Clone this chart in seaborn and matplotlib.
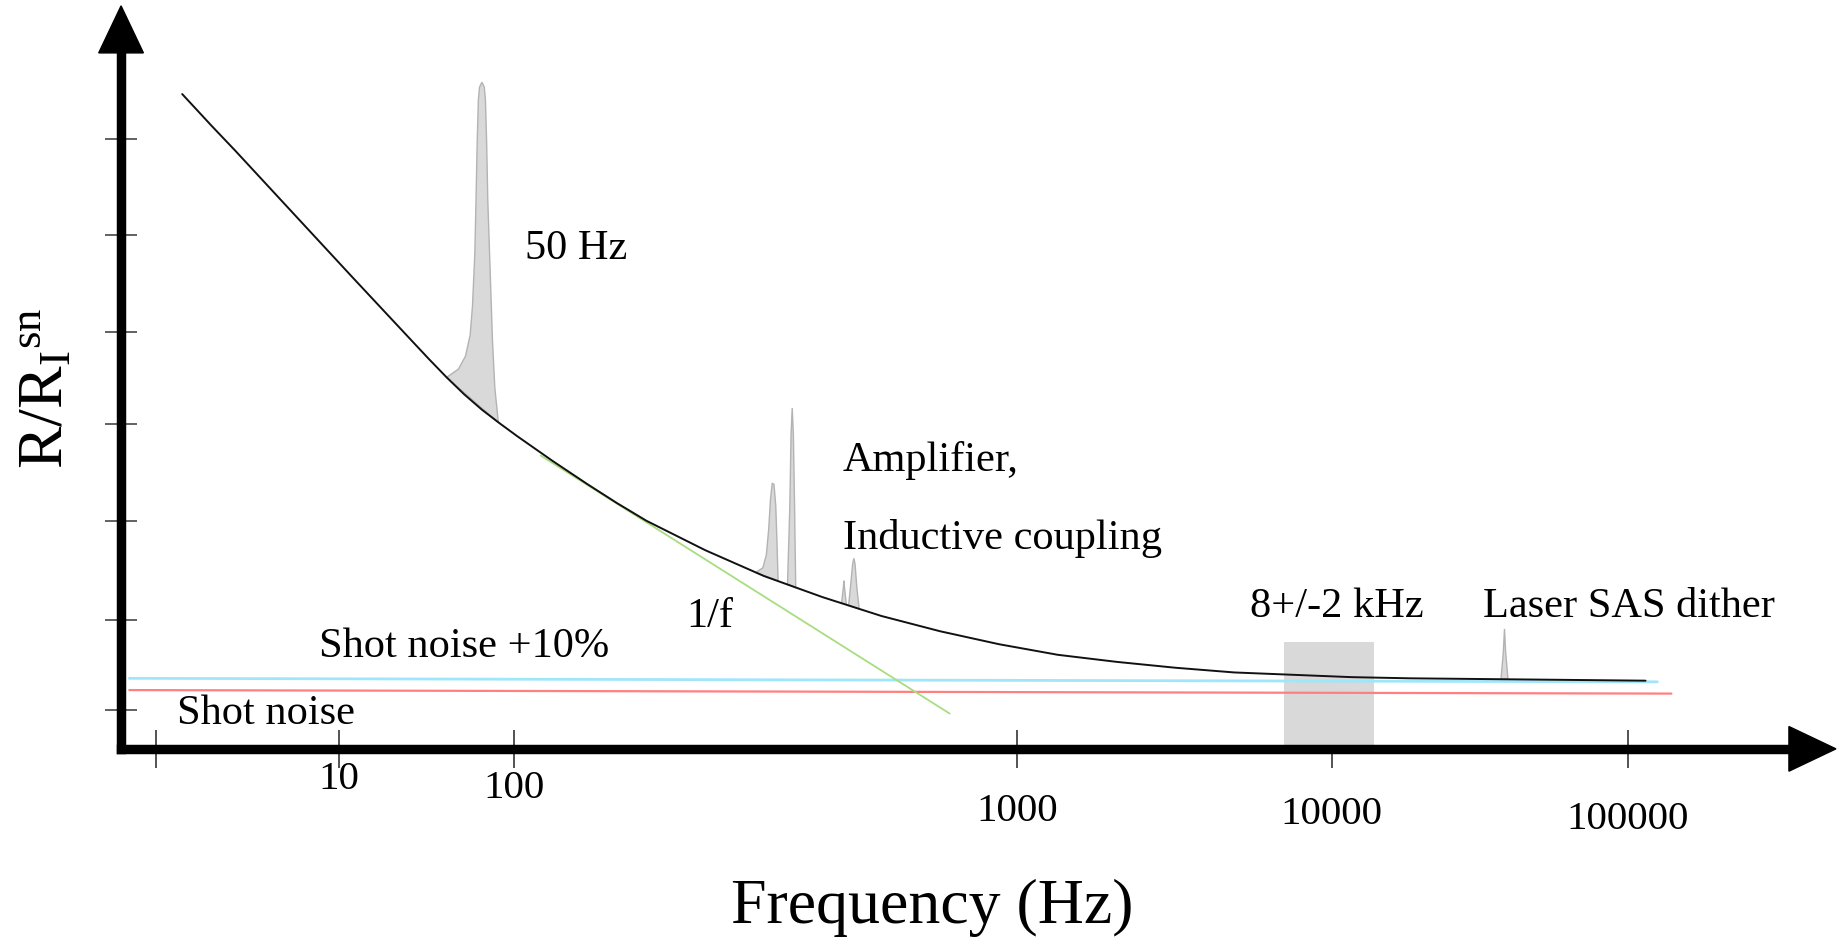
import matplotlib
matplotlib.use("Agg")
import matplotlib.pyplot as plt
import seaborn as sns

sns.set_theme(style="white")
plt.rcParams["font.family"] = ["Liberation Serif", "DejaVu Serif"]
plt.rcParams["text.color"] = "black"
plt.rcParams["mathtext.fontset"] = "custom"
plt.rcParams["mathtext.rm"] = "Liberation Serif"
plt.rcParams["mathtext.it"] = "Liberation Serif:italic"

# ---- schematic noise spectrum (arbitrary chart units) ----
# total measured noise
curve_x = [5.2, 7.7, 9.7, 14.7, 19.7, 24.7, 26.2, 27.7, 29.2, 30.7, 32.2, 33.7, 35.2,
           36.7, 38.2, 39.7, 42.2, 44.7, 49.7, 54.7, 59.7, 64.7, 69.7, 74.7, 79.7,
           84.7, 89.7, 94.7, 99.7, 104.7, 109.7, 119.7, 129.7]
curve_y = [55.7, 53.0, 50.9, 45.5, 40.1, 34.75, 33.15, 31.6, 30.15, 28.85, 27.7, 26.6, 25.55,
           24.5, 23.5, 22.5, 20.9, 19.4, 16.9, 14.7, 12.9, 11.3, 10.0, 8.9, 8.0,
           7.4, 6.9, 6.5, 6.3, 6.1, 6.0, 5.9, 5.8]

# 1/f asymptote
inv_f_x = [35.7, 70.5]
inv_f_y = [24.95, 3.0]

# shot noise and shot noise +10 %
shot_x = [0.7, 131.9]
shot_y = [5.0, 4.7]
shot10_x = [0.7, 130.7]
shot10_y = [6.0, 5.7]

# narrow-band pickup peaks (outline above the noise curve)
peak_50hz_x = [27.7, 28.7, 29.3, 29.7, 29.9, 30.1, 30.2, 30.3, 30.4, 30.5, 30.7, 30.9,
               31.0, 31.1, 31.2, 31.4, 31.6, 31.8, 32.1]
peak_50hz_y = [31.6, 32.3, 33.4, 35.2, 37.7, 42.2, 46.7, 51.7, 55.2, 56.3, 56.7, 56.3,
               55.2, 51.7, 46.7, 40.7, 34.7, 30.7, 27.75]
peak_amp1_x = [54.0, 54.6, 54.9, 55.1, 55.25, 55.4, 55.55, 55.7, 55.8, 55.9]
peak_amp1_y = [15.0, 15.4, 16.5, 18.7, 21.2, 22.6, 22.5, 20.7, 17.7, 14.3]
peak_amp2_x = [56.7, 56.9, 57.0, 57.1, 57.2, 57.3, 57.4]
peak_amp2_y = [14.0, 20.7, 26.7, 29.0, 26.7, 20.7, 13.7]
peak_amp3_x = [61.3, 61.45, 61.5, 61.55, 61.7]
peak_amp3_y = [12.4, 13.7, 14.3, 13.7, 12.3]
peak_amp4_x = [61.9, 62.1, 62.25, 62.35, 62.45, 62.6, 62.8]
peak_amp4_y = [12.2, 14.2, 15.8, 16.2, 15.7, 13.7, 11.9]
peak_sas_x = [117.4, 117.6, 117.7, 117.8, 118.0]
peak_sas_y = [5.9, 8.2, 10.2, 8.2, 5.9]

# 8 +/- 2 kHz band
band_x = [98.9, 106.6]
band_y = [0.3, 9.1]

# frequency axis ticks
xtick_pos = [3.0, 18.5, 33.4, 76.2, 103.0, 128.2]
xtick_labels = ["", "10", "100", "1000", "10000", "100000"]
ytick_pos = [3.3, 11.0, 19.4, 27.6, 35.5, 43.7, 51.9]

fig = plt.figure(figsize=(18.43, 9.44), dpi=100)
ax = fig.add_axes([0.06569, 0.20672, 0.93048, 0.78705])
ax.set_xlim(0, 145.9)
ax.set_ylim(0, 63.2)

gray_fill = "#d9d9d9"
gray_edge = "#b3b3b3"

# band
ax.fill_between(band_x, band_y[0], band_y[1], color=gray_fill, lw=0, zorder=1)

# peaks
for px, py in [(peak_50hz_x, peak_50hz_y), (peak_amp1_x, peak_amp1_y),
               (peak_amp2_x, peak_amp2_y), (peak_amp3_x, peak_amp3_y),
               (peak_amp4_x, peak_amp4_y), (peak_sas_x, peak_sas_y)]:
    ax.fill(px, py, facecolor=gray_fill, edgecolor=gray_edge, lw=1.0, zorder=2)

lines = [
    (shot_x, shot_y, "#ff8080", 1.6),
    (shot10_x, shot10_y, "#9fe6fb", 2.0),
    (inv_f_x, inv_f_y, "#a8dd80", 1.3),
    (curve_x, curve_y, "#111111", 1.4),
]
for lx, ly, col, lw in lines:
    sns.lineplot(x=lx, y=ly, ax=ax, color=col, lw=lw, sort=False,
                 estimator=None, zorder=3)

# axes as thick arrows
for side in ["top", "right"]:
    ax.spines[side].set_visible(False)
for side in ["left", "bottom"]:
    ax.spines[side].set_linewidth(6.8)
    ax.spines[side].set_color("black")
    ax.spines[side].set_zorder(4)
ax.spines["left"].set_bounds(0, 60)
ax.spines["bottom"].set_bounds(0, 142.5)
ax.fill([-1.9, 1.9, 0], [59.2, 59.2, 63.2], color="black", clip_on=False, zorder=5)
ax.fill([141.9, 141.9, 145.9], [-1.9, 1.9, 0], color="black", clip_on=False, zorder=5)

ax.set_xticks(xtick_pos)
ax.set_xticklabels([])
ax.set_yticks(ytick_pos)
ax.set_yticklabels([])
ax.tick_params(axis="x", direction="inout", length=28, width=1.3, color="#444444",
               bottom=True)
ax.tick_params(axis="y", direction="inout", length=23, width=1.3, color="#555555",
               left=True)
ax.grid(False)

tick_label_y = [-2.6, -2.6, -3.4, -5.3, -5.6, -6.0]
for x, lab, y in zip(xtick_pos, xtick_labels, tick_label_y):
    if lab:
        ax.text(x, y, lab, ha="center", va="center", fontsize=29.5, clip_on=False)

fs = 30.5
ax.text(38.7, 42.5, "50 Hz", ha="center", va="center", fontsize=fs)
ax.text(61.4, 24.5, "Amplifier,", ha="left", va="center", fontsize=fs)
ax.text(61.4, 17.9, "Inductive coupling", ha="left", va="center", fontsize=fs)
ax.text(50.1, 11.2, "1/f", ha="center", va="center", fontsize=fs)
ax.text(29.2, 8.7, "Shot noise +10%", ha="center", va="center", fontsize=fs)
ax.text(12.3, 3.0, "Shot noise", ha="center", va="center", fontsize=fs)
ax.text(103.4, 12.1, "8+/-2 kHz", ha="center", va="center", fontsize=fs)
ax.text(128.3, 12.1, "Laser SAS dither", ha="center", va="center", fontsize=fs)

ax.text(69.0, -13.5, "Frequency (Hz)", ha="center", va="center", fontsize=46,
        clip_on=False)
ax.text(-6.3, 30.7, r"R/R$_{\mathrm{I}}{}^{\mathrm{sn}}$", ha="center", va="center",
        rotation=90, fontsize=46, clip_on=False)

fig.savefig("out.png", dpi=100, facecolor="white")
